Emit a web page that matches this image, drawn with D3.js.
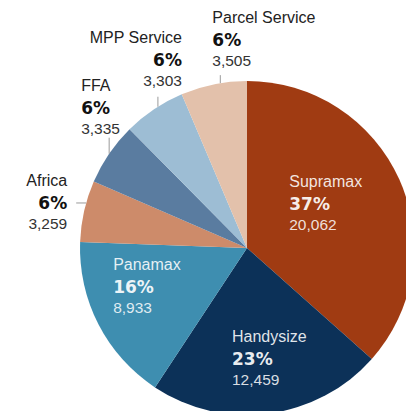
<!DOCTYPE html>
<html>
<head>
<meta charset="utf-8">
<script src="https://cdn.jsdelivr.net/npm/d3@7"></script>
<style>
  body { margin: 0; background: #fff; }
  text { font-family: "Liberation Sans", Arial, sans-serif; }
</style>
</head>
<body>
<div id="chart"></div>
<script>
var w = 406,
    h = 411;

var categories = ['Supramax', 'Handysize', 'Panamax', 'Africa', 'FFA', 'MPP Service', 'Parcel Service'];
var values = [20062, 12459, 8933, 3259, 3335, 3303, 3505];
var colors = ['#A03B12', '#0C3158', '#3E8EB0', '#CD8B6A', '#5A7CA0', '#9DBDD4', '#E3C1AB'];

// label placement: inside the slice or outside with a small leader tick
var layout = {
    'Supramax':       { inside: true, dx: -49, dy: -20, anchor: 'start' },
    'Handysize':      { inside: true, dx: -28, dy: -5,  anchor: 'start' },
    'Panamax':        { inside: true, dx: -45, dy: -24, anchor: 'start' },
    'Africa':         { tick: 'left', len: 10, nudge: 2.9, dx: -9,  dy: -17, anchor: 'end' },
    'FFA':            { tick: 'up',   len: 16, nudge: 0,   dx: -28, dy: -47, anchor: 'start' },
    'MPP Service':    { tick: 'up',   len: 10, nudge: 1.6, dx: 24,  dy: -54, anchor: 'end' },
    'Parcel Service': { tick: 'up',   len: 8,  nudge: 2.3, dx: -8,  dy: -52, anchor: 'start' }
};

var cx = 247, cy = 248, r = 167;

var data = categories.map(function(c, i) { return { name: c, value: values[i] } });
var total = d3.sum(values);

var color = d3.scaleOrdinal().domain(categories).range(colors);

var pie = d3.pie().sort(null).value(function(d) { return d.value });
var arc = d3.arc().innerRadius(0).outerRadius(r);

var svg = d3.select('#chart')
    .append('svg')
    .attr('width', w)
    .attr('height', h)

var g = svg.append('g').attr('transform', 'translate(' + cx + ',' + cy + ')');

var arcs = pie(data);

g.selectAll('path')
    .data(arcs).enter().append('path')
    .attr('d', arc)
    .attr('fill', function(d) { return color(d.data.name) })

function pt(a, rad) {
    return [Math.sin(a) * rad, -Math.cos(a) * rad];
}

arcs.forEach(function(d) {
    var L = layout[d.data.name];
    var mid = (d.startAngle + d.endAngle) / 2;
    var x0, y0, inside = !!L.inside;

    if (inside) {
        var p = pt(mid, 100);
        x0 = p[0] + L.dx;
        y0 = p[1] + L.dy;
    } else {
        var p = pt(mid + L.nudge * Math.PI / 180, r);
        var ex = p[0], ey = p[1];
        if (L.tick == 'up') ey -= L.len; else ex -= L.len;
        g.append('line')
            .attr('x1', p[0]).attr('y1', p[1])
            .attr('x2', ex).attr('y2', ey)
            .attr('stroke', '#9a9a9a')
            .attr('stroke-width', 1)
        x0 = ex + L.dx;
        y0 = ey + L.dy;
    }

    var t = g.append('g').attr('text-anchor', L.anchor);
    var pct = Math.round(d.data.value / total * 100) + '%';

    t.append('text')
        .attr('x', x0).attr('y', y0)
        .attr('font-size', '16px')
        .attr('fill', inside ? '#fff' : '#222')
        .attr('fill-opacity', inside ? 0.88 : 1)
        .text(d.data.name)
    t.append('text')
        .attr('x', x0).attr('y', y0 + 23)
        .attr('font-size', '17px')
        .attr('font-weight', 'bold')
        .style('font-family', '"DejaVu Sans", sans-serif')
        .attr('fill', inside ? '#fff' : '#111')
        .attr('fill-opacity', inside ? 0.92 : 1)
        .text(pct)
    t.append('text')
        .attr('x', x0).attr('y', y0 + 43)
        .attr('font-size', '15.5px')
        .attr('fill', inside ? '#fff' : '#333')
        .attr('fill-opacity', inside ? 0.85 : 1)
        .text(d3.format(',')(d.data.value))
});
</script>
</body>
</html>
